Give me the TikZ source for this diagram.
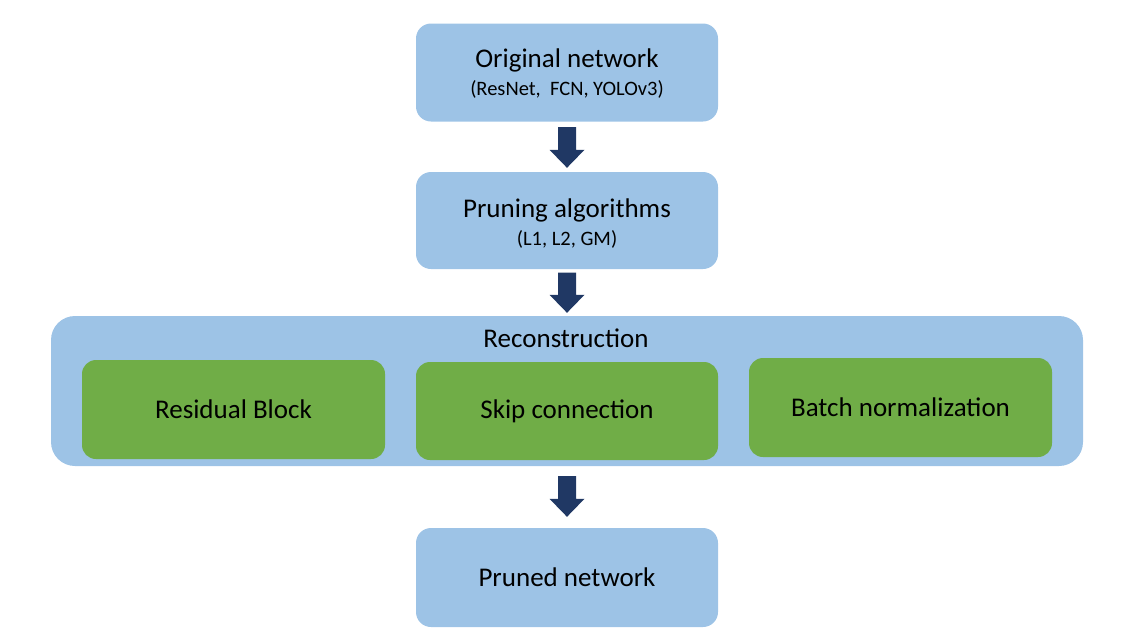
\documentclass[tikz,border=0pt]{standalone}
\usepackage{fontspec}
\setmainfont{Carlito}
\usetikzlibrary{calc}
\definecolor{boxblue}{HTML}{9DC3E6}
\definecolor{boxgreen}{HTML}{70AD47}
\definecolor{arrownavy}{HTML}{203864}
\tikzset{
  bluebox/.style={fill=boxblue, draw=none, rounded corners=15pt, minimum width=302pt, minimum height=98pt, inner sep=0pt},
  greenbox/.style={fill=boxgreen, draw=none, rounded corners=14pt, minimum width=303pt, minimum height=99pt, inner sep=0pt, font=\fontsize{27}{32}\selectfont},
  outerbox/.style={fill=boxblue, draw=none, rounded corners=24pt, minimum width=1032pt, minimum height=150pt, inner sep=0pt},
  titletext/.style={font=\fontsize{27}{32}\selectfont, inner sep=0pt},
  subtext/.style={font=\fontsize{20.5}{24}\selectfont, inner sep=0pt},
  blockarrow/.style={fill=arrownavy, draw=none}
}
% #1 source node, #2 target node, #3 gap below source, #4 gap above target
\newcommand{\blockarrowdraw}[4]{%
  \fill[blockarrow] ($(#1.south)+(-9,#3)$) -- ($(#1.south)+(9,#3)$) -- ($(#2.north)+(9,-#4-18)$) -- ($(#2.north)+(17.5,-#4-18)$) -- ($(#2.north)+(0,-#4)$) -- ($(#2.north)+(-17.5,-#4-18)$) -- ($(#2.north)+(-9,-#4-18)$) -- cycle;}
\begin{document}
\begin{tikzpicture}[x=1pt,y=-1pt]
\useasboundingbox (0,0) rectangle (1134,643);
\node[bluebox] (orig) at (567,72.5) {};
\node[titletext] (origt) at ($(orig.center)+(0,-12)$) {Original network};
\node[subtext] (origs) at ($(orig.center)+(0,17)$) {(ResNet,\ \ FCN, YOLOv3)};
\node[bluebox, minimum height=97pt] (prun) at (567,220.5) {};
\node[titletext] (prunt) at ($(prun.center)+(0,-10)$) {Pruning algorithms};
\node[subtext] (pruns) at ($(prun.center)+(0,19)$) {(L1, L2, GM)};
\node[outerbox] (recon) at (567,391) {};
\node[titletext] (recont) at (566,338) {Reconstruction};
\node[greenbox] (resid) at (233.5,409.5) {Residual Block};
\node[greenbox, minimum width=302pt, minimum height=98pt] (skip) at (567,411) {Skip connection};
\node[greenbox] (batch) at (900.5,407.5) {Batch normalization};
\node[bluebox, minimum height=99pt] (pruned) at (567,577.5) {};
\node[titletext] (prunedt) at (pruned.center) {Pruned network};
\blockarrowdraw{orig}{prun}{5.5}{4}
\blockarrowdraw{prun}{recon}{3.5}{3}
\blockarrowdraw{recon}{pruned}{10}{11}
\end{tikzpicture}
\end{document}
